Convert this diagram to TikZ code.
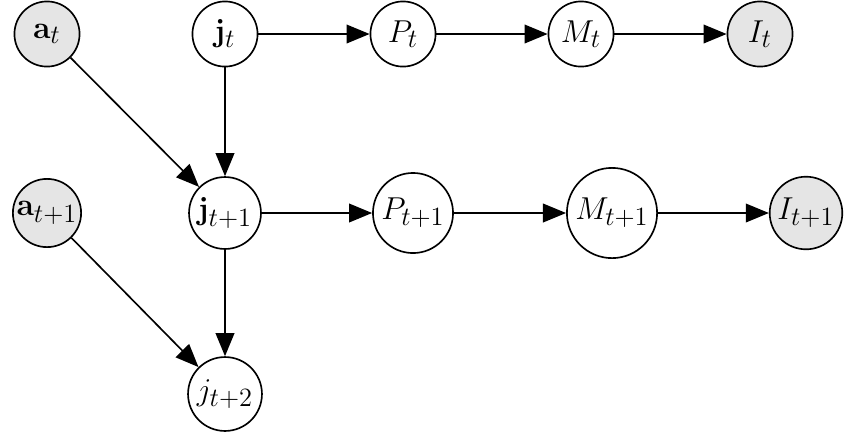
\documentclass[tikz,border=0pt]{standalone}
\usetikzlibrary{arrows.meta}
\DeclareMathSizes{13.5}{13.5}{11.5}{9}
\newcommand{\nodefont}{\fontsize{13.5}{16}\selectfont}
\begin{document}
\begin{tikzpicture}[x=0.4545pt,y=-0.4545pt,
  var/.style={circle,draw,line width=0.75pt,inner sep=1pt,fill=white,font=\nodefont},
  obs/.style={var,fill=gray!20},
  edge/.style={line width=0.75pt,-{Triangle[length=10.5pt,width=8.5pt]}}]
\useasboundingbox (0,0) rectangle (846,438);
\node[obs,minimum size=29.6pt] (at) at (47,34) {$\mathbf{a}_t$};
\node[var,minimum size=29.6pt] (jt) at (225,34) {$\mathbf{j}_t$};
\node[var,minimum size=29.6pt] (Pt) at (403,34) {$P_t$};
\node[var,minimum size=29.6pt] (Mt) at (581,34) {$M_t$};
\node[obs,minimum size=29.6pt] (It) at (760,34) {$I_t$};
\node[obs,minimum size=31pt,inner sep=0.5pt] (at1) at (47,213) {$\mathbf{a}_{t+1}$};
\node[var,minimum size=32.7pt] (jt1) at (225,213) {$\mathbf{j}_{t+1}$};
\node[var,minimum size=36.4pt] (Pt1) at (413,213) {$P_{t+1}$};
\node[var,minimum size=41pt] (Mt1) at (612,213) {$M_{t+1}$};
\node[obs,minimum size=33pt] (It1) at (806,213) {$I_{t+1}$};
\node[var,minimum size=33.6pt] (jt2) at (225,394) {$j_{t+2}$};
\draw[edge] (jt) -- (Pt);
\draw[edge] (Pt) -- (Mt);
\draw[edge] (Mt) -- (It);
\draw[edge] (jt1) -- (Pt1);
\draw[edge] (Pt1) -- (Mt1);
\draw[edge] (Mt1) -- (It1);
\draw[edge] (jt) -- (jt1);
\draw[edge] (at) -- (jt1);
\draw[edge] (jt1) -- (jt2);
\draw[edge] (at1) -- (jt2);
\end{tikzpicture}
\end{document}
